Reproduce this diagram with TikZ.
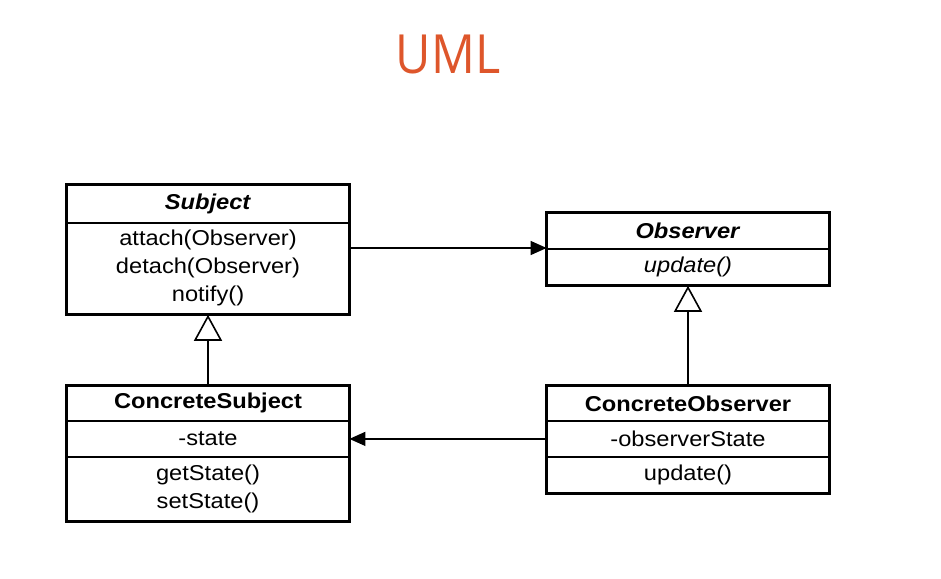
\documentclass[tikz,border=0pt]{standalone}
\usepackage{fontspec}
\setmainfont{Liberation Sans}
\newfontfamily\boxfont{Liberation Sans}[FakeStretch=1.1]
\newfontfamily\titlefont{Open Sans}
\usetikzlibrary{arrows.meta}
\definecolor{titleorange}{RGB}{222,86,43}
\begin{document}
\begin{tikzpicture}[x=1pt,y=-1pt,
  comp/.style={draw, line width=1.8pt, minimum width=281pt, inner sep=0pt, anchor=north,
    align=center, font=\boxfont\fontsize{21.5}{28}\selectfont},
  outer/.style={line width=3pt},
  assoc/.style={line width=1.4pt, -{Triangle[length=16pt,width=14pt]}},
  gen/.style={line width=1.6pt, -{Triangle[open,length=26pt,width=28pt,line width=1.6pt]}}]
\useasboundingbox (0,0) rectangle (941,578);
\fill[white] (0,0) rectangle (941,578);

\node[font=\titlefont\fontsize{54}{60}\selectfont, text=titleorange, xscale=0.9] (title) at (448,54) {UML};

% Subject
\node[comp, minimum height=38pt] (shead) at (208,184) {\textbf{\textit{Subject}}};
\node[comp, minimum height=91pt] (sbody) at (208,222) {attach(Observer)\\detach(Observer)\\notify()};
\draw[outer] (shead.north west) rectangle (sbody.south east);

% Observer
\node[comp, minimum height=36pt] (ohead) at (688,212) {\textbf{\textit{Observer}}};
\node[comp, minimum height=36pt] (obody) at (688,248) {\textit{update()}};
\draw[outer] (ohead.north west) rectangle (obody.south east);

% ConcreteSubject
\node[comp, minimum height=35pt] (cshead) at (208,385) {\textbf{ConcreteSubject}};
\node[comp, minimum height=36pt] (csattr) at (208,420) {-state};
\node[comp, minimum height=64pt] (csmeth) at (208,456) {getState()\\setState()};
\draw[outer] (cshead.north west) rectangle (csmeth.south east);

% ConcreteObserver
\node[comp, minimum height=35pt] (cohead) at (688,385) {\textbf{ConcreteObserver}};
\node[comp, minimum height=36pt] (coattr) at (688,420) {-observerState};
\node[comp, minimum height=36pt] (cometh) at (688,456) {update()};
\draw[outer] (cohead.north west) rectangle (cometh.south east);

% connectors
\draw[assoc] (sbody.east |- obody.north west) -- (obody.north west);
\draw[assoc] (coattr.west) -- (csattr.east);
\draw[gen] (cshead.north) -- (sbody.south);
\draw[gen] (cohead.north) -- (obody.south);
\end{tikzpicture}
\end{document}
